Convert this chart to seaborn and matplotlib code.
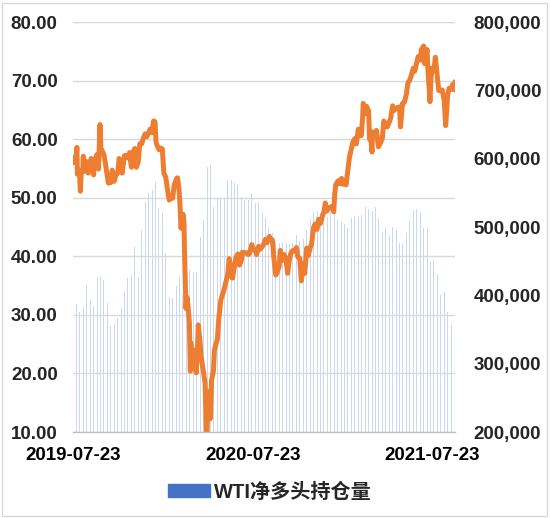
import matplotlib
matplotlib.use("Agg")
import matplotlib.pyplot as plt
import matplotlib.dates as mdates
from matplotlib.patches import Patch, Rectangle
import pandas as pd
import seaborn as sns

# weekly WTI net long positions (bars, right axis), one per Tuesday from 2019-07-23
bar_start = "2019-07-23"
net_long = [
    398000, 388000, 376000, 383000, 415000, 393000, 384000, 427000, 427000, 422000,
    389000, 355000, 358000, 367000, 383000, 406000, 425000, 430000, 471000, 427000,
    496000, 537000, 550000, 554000, 566000, 528000, 521000, 462000, 398000, 396000,
    413000, 427000, 400000, 400000, 437000, 434000, 434000, 486000, 510000, 588000,
    591000, 530000, 542000, 542000, 542000, 569000, 569000, 564000, 562000, 544000,
    540000, 540000, 548000, 535000, 536000, 522000, 513000, 500000, 491000, 480000,
    477000, 477000, 476000, 475000, 476000, 488000, 480000, 482000, 495000, 510000,
    522000, 524000, 520000, 515000, 515000, 522000, 520000, 510000, 508000, 505000,
    498000, 513000, 516000, 514000, 518000, 530000, 527000, 524000, 530000, 513000,
    493000, 499000, 489000, 500000, 496000, 476000, 476000, 491000, 510000, 525000,
    526000, 522000, 498000, 499000, 449000, 451000, 431000, 400000, 405000, 375000,
    357000,
]

# WTI price (orange line, left axis)
price_dates = [
    "2019-07-23", "2019-07-25", "2019-07-29", "2019-07-31", "2019-08-01", "2019-08-05",
    "2019-08-07", "2019-08-09", "2019-08-12", "2019-08-13", "2019-08-15", "2019-08-19",
    "2019-08-22", "2019-08-23", "2019-08-27", "2019-08-29", "2019-09-03", "2019-09-05",
    "2019-09-10", "2019-09-13", "2019-09-16", "2019-09-18", "2019-09-20", "2019-09-24",
    "2019-09-27", "2019-10-01", "2019-10-03", "2019-10-08", "2019-10-11", "2019-10-15",
    "2019-10-18", "2019-10-22", "2019-10-25", "2019-10-29", "2019-10-31", "2019-11-05",
    "2019-11-08", "2019-11-12", "2019-11-15", "2019-11-19", "2019-11-22", "2019-11-26",
    "2019-11-29", "2019-12-03", "2019-12-06", "2019-12-10", "2019-12-13", "2019-12-17",
    "2019-12-20", "2019-12-24", "2019-12-27", "2019-12-31", "2020-01-03", "2020-01-06",
    "2020-01-08", "2020-01-10", "2020-01-14", "2020-01-17", "2020-01-21", "2020-01-24",
    "2020-01-28", "2020-01-31", "2020-02-04", "2020-02-07", "2020-02-11", "2020-02-14",
    "2020-02-19", "2020-02-21", "2020-02-24", "2020-02-26", "2020-02-28", "2020-03-03",
    "2020-03-05", "2020-03-06", "2020-03-09", "2020-03-11", "2020-03-13", "2020-03-16",
    "2020-03-18", "2020-03-19", "2020-03-20", "2020-03-24", "2020-03-27", "2020-03-30",
    "2020-04-02", "2020-04-03", "2020-04-06", "2020-04-09", "2020-04-14", "2020-04-17",
    "2020-04-20", "2020-04-21", "2020-04-22", "2020-04-24", "2020-04-27", "2020-04-28",
    "2020-04-30", "2020-05-04", "2020-05-06", "2020-05-08", "2020-05-12", "2020-05-15",
    "2020-05-19", "2020-05-22", "2020-05-26", "2020-05-29", "2020-06-02", "2020-06-05",
    "2020-06-08", "2020-06-11", "2020-06-12", "2020-06-16", "2020-06-19", "2020-06-23",
    "2020-06-25", "2020-06-26", "2020-06-30", "2020-07-02", "2020-07-07", "2020-07-10",
    "2020-07-14", "2020-07-17", "2020-07-21", "2020-07-24", "2020-07-28", "2020-07-31",
    "2020-08-04", "2020-08-07", "2020-08-11", "2020-08-14", "2020-08-18", "2020-08-21",
    "2020-08-26", "2020-08-28", "2020-09-01", "2020-09-04", "2020-09-08", "2020-09-11",
    "2020-09-15", "2020-09-17", "2020-09-21", "2020-09-25", "2020-09-29", "2020-10-02",
    "2020-10-06", "2020-10-09", "2020-10-13", "2020-10-16", "2020-10-20", "2020-10-23",
    "2020-10-27", "2020-10-30", "2020-11-03", "2020-11-06", "2020-11-10", "2020-11-13",
    "2020-11-17", "2020-11-20", "2020-11-24", "2020-11-27", "2020-12-01", "2020-12-04",
    "2020-12-08", "2020-12-11", "2020-12-15", "2020-12-18", "2020-12-21", "2020-12-24",
    "2020-12-31", "2021-01-04", "2021-01-06", "2021-01-08", "2021-01-13", "2021-01-15",
    "2021-01-20", "2021-01-22", "2021-01-27", "2021-01-29", "2021-02-02", "2021-02-05",
    "2021-02-09", "2021-02-12", "2021-02-16", "2021-02-19", "2021-02-23", "2021-02-26",
    "2021-03-01", "2021-03-04", "2021-03-05", "2021-03-08", "2021-03-10", "2021-03-12",
    "2021-03-16", "2021-03-18", "2021-03-19", "2021-03-23", "2021-03-24", "2021-03-26",
    "2021-03-30", "2021-04-01", "2021-04-05", "2021-04-09", "2021-04-13", "2021-04-16",
    "2021-04-20", "2021-04-23", "2021-04-27", "2021-04-30", "2021-05-04", "2021-05-07",
    "2021-05-11", "2021-05-14", "2021-05-18", "2021-05-20", "2021-05-24", "2021-05-28",
    "2021-06-01", "2021-06-04", "2021-06-08", "2021-06-11", "2021-06-15", "2021-06-18",
    "2021-06-22", "2021-06-25", "2021-06-30", "2021-07-01", "2021-07-06", "2021-07-08",
    "2021-07-13", "2021-07-15", "2021-07-19", "2021-07-21", "2021-07-23", "2021-07-27",
    "2021-07-30", "2021-08-03", "2021-08-06", "2021-08-10", "2021-08-13", "2021-08-17",
    "2021-08-20", "2021-08-24", "2021-08-27", "2021-08-31", "2021-09-03", "2021-09-07",
    "2021-09-08",
]
price_values = [
    56.8, 56.0, 56.9, 58.6, 54.0, 54.7,
    51.1, 54.5, 54.9, 57.1, 54.5, 56.2,
    55.4, 54.2, 54.9, 56.7, 53.9, 56.3,
    57.4, 54.9, 62.5, 58.1, 58.1, 57.3,
    55.9, 53.6, 52.5, 52.6, 54.7, 52.8,
    53.8, 54.2, 56.7, 55.5, 54.2, 57.2,
    57.2, 56.8, 57.7, 55.2, 57.8, 58.4,
    55.2, 56.1, 59.2, 59.2, 60.1, 60.9,
    60.4, 61.1, 61.7, 61.1, 63.1, 63.0,
    59.6, 59.0, 58.2, 58.5, 58.3, 54.2,
    53.5, 51.6, 49.6, 50.3, 49.9, 52.1,
    53.3, 53.4, 51.4, 48.7, 44.8, 47.2,
    45.9, 41.3, 31.1, 33.0, 31.7, 28.7,
    20.4, 25.2, 22.4, 24.0, 21.5, 20.1,
    25.3, 28.3, 26.1, 22.8, 20.1, 18.3,
    9.0, 9.5, 13.8, 16.9, 12.8, 12.3,
    18.8, 20.4, 24.0, 24.7, 25.8, 29.4,
    32.5, 33.3, 34.4, 35.5, 36.8, 39.6,
    38.2, 36.3, 36.3, 38.4, 39.8, 40.4,
    38.7, 38.5, 39.3, 40.7, 40.6, 40.6,
    40.3, 40.6, 42.0, 41.3, 41.0, 40.3,
    41.7, 41.2, 41.6, 42.0, 42.9, 42.3,
    43.4, 43.0, 42.8, 39.8, 36.8, 37.3,
    38.3, 41.0, 39.3, 40.3, 39.3, 37.1,
    39.6, 40.6, 41.0, 40.9, 41.5, 39.9,
    39.6, 35.8, 38.7, 37.1, 41.4, 40.1,
    41.4, 42.2, 44.9, 45.5, 44.6, 46.3,
    45.6, 46.6, 47.6, 49.1, 47.7, 48.2,
    48.5, 47.6, 50.6, 52.2, 52.9, 52.4,
    53.3, 52.3, 52.9, 52.2, 54.8, 56.9,
    58.4, 59.5, 60.1, 59.2, 61.7, 61.5,
    60.6, 63.8, 66.1, 65.1, 64.4, 65.6,
    64.8, 60.0, 61.4, 57.8, 61.2, 61.0,
    60.6, 61.5, 58.7, 59.3, 60.2, 63.1,
    62.4, 62.1, 62.9, 63.6, 65.7, 64.9,
    65.3, 65.4, 65.5, 62.1, 66.1, 66.3,
    67.7, 69.6, 70.1, 70.9, 72.1, 71.6,
    73.1, 74.1, 73.5, 75.2, 75.9, 72.9,
    75.3, 71.7, 66.4, 70.3, 72.1, 71.7,
    74.0, 70.6, 68.3, 68.3, 68.4, 66.6,
    62.3, 67.5, 68.7, 68.5, 69.3, 68.4,
    69.8,
]

sns.set_theme(style="white")
plt.rcParams["font.family"] = ["Liberation Sans", "Noto Sans CJK SC"]

fig, ax = plt.subplots(figsize=(5.5, 5.18), dpi=100)
fig.subplots_adjust(left=0.1327, right=0.8273, top=0.9575, bottom=0.166)
ax2 = ax.twinx()

bar_dates = pd.date_range(bar_start, periods=len(net_long), freq="7D")
ax2.bar(bar_dates, net_long, width=2.0, color="#4472C4", alpha=0.28, linewidth=0)

sns.lineplot(x=pd.to_datetime(price_dates), y=price_values, ax=ax,
             color="#ED7D31", linewidth=3.6)

# line on top of bars
ax.set_zorder(ax2.get_zorder() + 1)
ax.patch.set_visible(False)

ax.set_xlim(pd.Timestamp("2019-07-23"), pd.Timestamp("2021-09-08"))
ax.set_xticks(pd.to_datetime(["2019-07-23", "2020-07-23", "2021-07-23"]))
ax.xaxis.set_major_formatter(mdates.DateFormatter("%Y-%m-%d"))

ax.set_ylim(10, 80)
ax.set_yticks(range(10, 81, 10))
ax.yaxis.set_major_formatter("{x:.2f}")
ax2.set_ylim(200000, 800000)
ax2.set_yticks(range(200000, 800001, 100000))
ax2.yaxis.set_major_formatter("{x:,.0f}")

ax.grid(axis="y", color="#d9d9d9", linewidth=1)
ax.grid(axis="x", visible=False)
ax2.grid(False)
for s in ["top", "left", "right"]:
    ax.spines[s].set_visible(False)
    ax2.spines[s].set_visible(False)
ax2.spines["bottom"].set_visible(False)
ax.spines["bottom"].set_color("#bfbfbf")
ax.spines["bottom"].set_linewidth(1)

ax.tick_params(axis="x", length=3.5, width=1, color="#bfbfbf", pad=7.5,
               labelsize=13.5, labelcolor="#000000")
ax.tick_params(axis="y", length=0, pad=11, labelsize=13.5)
ax2.tick_params(axis="y", length=0, pad=13.5, labelsize=13.5)
for lab in ax.get_xticklabels() + ax.get_yticklabels() + ax2.get_yticklabels():
    lab.set_fontweight("bold")
ax.set_xlabel("")
ax.set_ylabel("")

fig.legend(handles=[Patch(color="#4472C4", label="WTI净多头持仓量")],
           loc="center", bbox_to_anchor=(0.491, 1 - 492 / 518), frameon=False,
           handlelength=2.1, handleheight=0.6, handletextpad=0.2,
           prop={"weight": "bold", "size": 14.5,
                 "family": ["Liberation Sans", "Noto Sans CJK SC"]})

fig.patches.append(Rectangle((0.004, 0.004), 0.99, 0.99, transform=fig.transFigure,
                             fill=False, edgecolor="#d9d9d9", linewidth=1))

fig.savefig("out.png", dpi=100)
